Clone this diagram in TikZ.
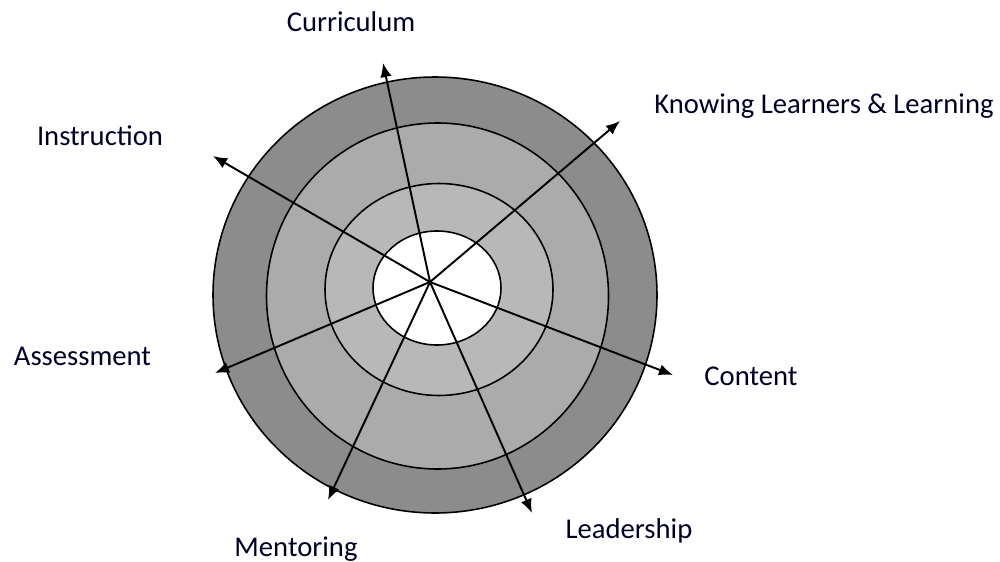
\documentclass[tikz,border=0pt]{standalone}
\usepackage{fontspec}
\setmainfont{Carlito}
\usetikzlibrary{arrows.meta}

\begin{document}
\begin{tikzpicture}[>={Latex[length=8pt,width=6.5pt]}, x=0.02cm, y=-0.02cm,
    ring/.style={draw=black, line width=0.9pt},
    spoke/.style={->, line width=1.1pt},
    lbl/.style={font=\fontsize{16.3}{19}\selectfont, text=black!85!blue, anchor=base, inner sep=0pt}]

              \useasboundingbox (0,0) rectangle (1000,561);

              % Rings
              \draw[ring, fill=black!45] (435,295) ellipse (222 and 218);
              \draw[ring, fill=black!33] (437.5,296) ellipse (171 and 173);
              \draw[ring, fill=black!28] (439,289.5) ellipse (114 and 106);
              \draw[ring, fill=white] (437,288) ellipse (64 and 57);

              % Hub and arrow ends
              \coordinate (hub) at (430,282);
              \coordinate (curEnd) at (383,63);
              \coordinate (knoEnd) at (620,121);
              \coordinate (insEnd) at (213,156);
              \coordinate (assEnd) at (215,373);
              \coordinate (conEnd) at (673,375);
              \coordinate (menEnd) at (328,500);
              \coordinate (leaEnd) at (532,513);

              % Spokes
              \foreach \e in {curEnd,knoEnd,insEnd,assEnd,conEnd,menEnd,leaEnd}
                \draw[spoke] (hub) -- (\e);

              % Labels
              \node[lbl] (curLbl) at (351,31.5) {Curriculum};
              \node[lbl] (knoLbl) at (824,113) {Knowing Learners \& Learning};
              \node[lbl] (insLbl) at (100,145.5) {Instruction};
              \node[lbl] (assLbl) at (82.5,365) {Assessment};
              \node[lbl] (conLbl) at (751,385) {Content};
              \node[lbl] (leaLbl) at (629,538) {Leadership};
              \node[lbl] (menLbl) at (296,556.5) {Mentoring};

        \end{tikzpicture}
\end{document}
